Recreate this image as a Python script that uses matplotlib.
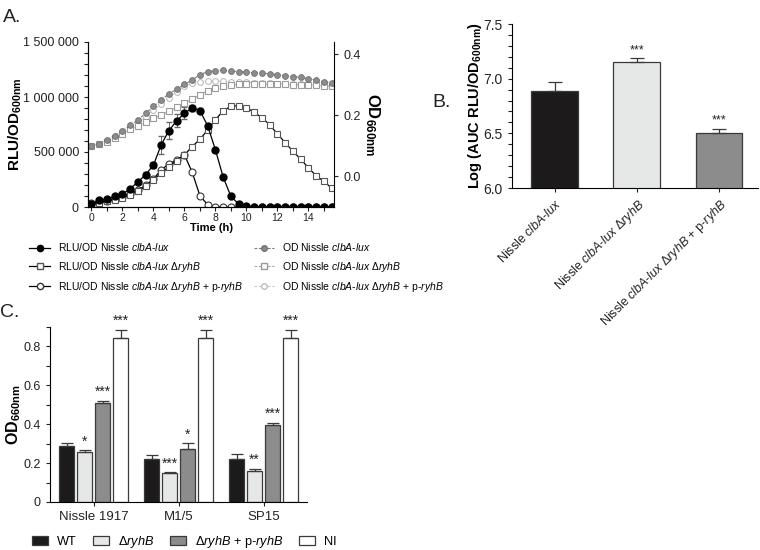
import matplotlib
matplotlib.use('Agg')
import matplotlib.pyplot as plt
import numpy as np
from matplotlib.ticker import MultipleLocator, FuncFormatter
from matplotlib.lines import Line2D
from matplotlib.patches import Patch

plt.rcParams['font.family'] = ['Liberation Sans', 'DejaVu Sans']
plt.rcParams['mathtext.fontset'] = 'custom'
plt.rcParams['mathtext.rm'] = 'Liberation Sans'
plt.rcParams['mathtext.it'] = 'Liberation Sans:italic'
plt.rcParams['mathtext.bf'] = 'Liberation Sans:bold'

# ---------------- Datos panel A (cinetica) ----------------
tiempo = np.arange(0, 16, 0.5)

rlu_wt = [30e3, 60e3, 72e3, 96e3, 117e3, 167e3, 227e3, 295e3, 380e3, 565e3,
          695e3, 783e3, 852e3, 900e3, 876e3, 738e3, 520e3, 272e3, 96e3, 27e3,
          5e3, 0, 0, 0, 0, 0, 0, 0, 0, 0, 0, 0]
rlu_wt_err = [0, 0, 0, 5e3, 5e3, 10e3, 15e3, 20e3, 25e3, 85e3,
              75e3, 60e3, 55e3, 30e3, 25e3, 15e3, 10e3, 8e3, 5e3, 0,
              0, 0, 0, 0, 0, 0, 0, 0, 0, 0, 0, 0]
rlu_ryhb = [30e3, 40e3, 52e3, 66e3, 85e3, 110e3, 145e3, 187e3, 247e3, 308e3,
            368e3, 422e3, 474e3, 549e3, 616e3, 700e3, 795e3, 873e3, 917e3, 920e3,
            903e3, 860e3, 813e3, 747e3, 664e3, 585e3, 507e3, 435e3, 356e3, 284e3,
            232e3, 172e3]
rlu_comp = [35e3, 45e3, 58e3, 75e3, 95e3, 120e3, 155e3, 196e3, 254e3, 338e3,
            392e3, 428e3, 474e3, 317e3, 102e3, 21e3, 3e3, 0, 0, 0,
            0, 0, 0, 0, 0, 0, 0, 0, 0, 0, 0, 0]

od_wt = [0.100, 0.107, 0.120, 0.133, 0.149, 0.167, 0.185, 0.207, 0.229, 0.251,
         0.270, 0.286, 0.301, 0.316, 0.333, 0.343, 0.346, 0.348, 0.345, 0.343,
         0.341, 0.340, 0.338, 0.336, 0.333, 0.330, 0.327, 0.324, 0.319, 0.316,
         0.310, 0.307]
od_ryhb = [0.100, 0.105, 0.113, 0.125, 0.140, 0.155, 0.166, 0.178, 0.190, 0.200,
           0.213, 0.227, 0.240, 0.252, 0.268, 0.280, 0.289, 0.295, 0.299, 0.301,
           0.302, 0.302, 0.302, 0.302, 0.301, 0.301, 0.300, 0.300, 0.299, 0.298,
           0.297, 0.295]
od_comp = [0.100, 0.105, 0.116, 0.128, 0.142, 0.158, 0.176, 0.196, 0.217, 0.238,
           0.258, 0.278, 0.295, 0.305, 0.310, 0.312, 0.312, 0.311, 0.310, 0.309,
           0.308, 0.307, 0.306, 0.305, 0.304, 0.303, 0.302, 0.301, 0.300, 0.299,
           0.298, 0.297]

# ---------------- Datos panel B (AUC) ----------------
cepas_b = [r"Nissle $\mathit{clbA}$-$\mathit{lux}$",
           r"Nissle $\mathit{clbA}$-$\mathit{lux}$ $\mathit{\Delta ryhB}$",
           r"Nissle $\mathit{clbA}$-$\mathit{lux}$ $\mathit{\Delta ryhB}$ + p-$\mathit{ryhB}$"]
auc = [6.889, 7.155, 6.504]
auc_err = [0.077, 0.031, 0.040]
auc_sig = ['', '***', '***']

# ---------------- Datos panel C (OD) ----------------
grupos_c = ['Nissle 1917', 'M1/5', 'SP15']
od_c_wt = [0.289, 0.223, 0.223]
od_c_wt_err = [0.016, 0.021, 0.023]
od_c_ryhb = [0.257, 0.148, 0.162]
od_c_ryhb_err = [0.008, 0.004, 0.010]
od_c_comp = [0.509, 0.272, 0.398]
od_c_comp_err = [0.013, 0.029, 0.008]
od_c_ni = [0.843, 0.843, 0.843]
od_c_ni_err = [0.041, 0.041, 0.041]
sig_c_ryhb = ['*', '***', '**']
sig_c_comp = ['***', '*', '***']
sig_c_ni = ['***', '***', '***']

W, H = 760, 550
fig = plt.figure(figsize=(7.6, 5.5), dpi=100)


def caja(l, t, r, b):
    # rectangulo en pixeles -> fraccion de figura
    return [l / W, 1 - b / H, (r - l) / W, (b - t) / H]


gris_txt = '#222222'

# ===================== Panel A =====================
ax = fig.add_axes(caja(88, 42, 334, 207))
ax.errorbar(tiempo, rlu_comp, color='black', marker='o', mfc='white', mec='#333333',
            ms=5, lw=0.9, mew=0.8)
ax.errorbar(tiempo, rlu_ryhb, color='black', marker='s', mfc='white', mec='#555555',
            ms=5, lw=0.9, mew=0.8)
ax.errorbar(tiempo, rlu_wt, yerr=rlu_wt_err, color='black', marker='o', ms=5, lw=0.9,
            ecolor='#666666', elinewidth=0.7, capsize=2.5)
ax.set_xlim(-0.22, 15.65)
ax.set_ylim(0, 1.5e6)
ax.xaxis.set_major_locator(MultipleLocator(2))
ax.xaxis.set_minor_locator(MultipleLocator(1))
ax.yaxis.set_major_locator(MultipleLocator(500000))
ax.yaxis.set_minor_locator(MultipleLocator(100000))
ax.yaxis.set_major_formatter(FuncFormatter(lambda v, p: f"{int(v):,}".replace(',', ' ')))
ax.tick_params(which='both', direction='out', length=3, width=0.8, labelsize=9, colors=gris_txt)
ax.tick_params(axis='x', labelsize=7.5, pad=1)
ax.spines['top'].set_visible(False)
ax.spines['right'].set_visible(False)
ax.set_xlabel('Time (h)', fontsize=8, fontweight='bold', labelpad=0)
ax.set_ylabel(r'$\mathbf{RLU/OD_{600nm}}$', fontsize=11)
ax.yaxis.set_label_coords(-0.262, 0.5)

ax2 = ax.twinx()
guion = (0, (2.5, 1.5))
ax2.plot(tiempo, od_comp, color='#c8c8c8', ls=guion, marker='o', mfc='white', mec='#bdbdbd',
         ms=4.2, lw=0.8, mew=0.8)
ax2.plot(tiempo, od_ryhb, color='#a8a8a8', ls=guion, marker='s', mfc='white', mec='#9a9a9a',
         ms=4.2, lw=0.8, mew=0.8)
ax2.plot(tiempo, od_wt, color='#7a7a7a', ls=guion, marker='o', mfc='#8c8c8c', mec='#707070',
         ms=4.2, lw=0.8, mew=0.6)
ax2.set_ylim(-0.1, 0.44)
ax2.set_yticks([0.0, 0.2, 0.4])
ax2.yaxis.set_major_formatter(FuncFormatter(lambda v, p: f"{v:.1f}"))
ax2.tick_params(direction='out', length=3, width=0.8, labelsize=9, colors=gris_txt)
ax2.spines['top'].set_visible(False)
ax2.set_ylabel(r'$\mathbf{OD_{660nm}}$', fontsize=12, rotation=270)
ax2.yaxis.set_label_coords(1.195, 0.5)

manejadores = [
    Line2D([], [], color='black', marker='o', ms=4.5, lw=0.9),
    Line2D([], [], color='black', marker='s', mfc='white', mec='#555555', ms=4.5, lw=0.9),
    Line2D([], [], color='black', marker='o', mfc='white', mec='#333333', ms=4.5, lw=0.9),
    Line2D([], [], color='#7a7a7a', ls=guion, marker='o', mfc='#8c8c8c', mec='#707070', ms=4, lw=0.8),
    Line2D([], [], color='#a8a8a8', ls=guion, marker='s', mfc='white', mec='#9a9a9a', ms=4, lw=0.8),
    Line2D([], [], color='#c8c8c8', ls=guion, marker='o', mfc='white', mec='#bdbdbd', ms=4, lw=0.8),
]
etiquetas = [
    r"RLU/OD Nissle $\mathit{clbA}$-$\mathit{lux}$",
    r"RLU/OD Nissle $\mathit{clbA}$-$\mathit{lux}$ $\mathit{\Delta ryhB}$",
    r"RLU/OD Nissle $\mathit{clbA}$-$\mathit{lux}$ $\mathit{\Delta ryhB}$ + p-$\mathit{ryhB}$",
    r"OD Nissle $\mathit{clbA}$-$\mathit{lux}$",
    r"OD Nissle $\mathit{clbA}$-$\mathit{lux}$ $\mathit{\Delta ryhB}$",
    r"OD Nissle $\mathit{clbA}$-$\mathit{lux}$ $\mathit{\Delta ryhB}$ + p-$\mathit{ryhB}$",
]
fig.legend(manejadores, etiquetas, ncol=2, loc='upper left', bbox_to_anchor=(24 / W, 1 - 236 / H),
           frameon=False, fontsize=7.5, handlelength=2.0, handletextpad=0.75, columnspacing=1.0,
           labelspacing=0.62, borderpad=0)

fig.text(3 / W, 1 - 22 / H, 'A.', fontsize=14, color=gris_txt)

# ===================== Panel B =====================
axb = fig.add_axes(caja(512, 24, 758, 188))
colores_b = ['#1c1a1b', '#e6e7e7', '#8c8c8c']
xb = np.arange(len(auc))
axb.bar(xb, auc, width=0.57, color=colores_b, edgecolor='#3a3a3a', lw=0.9,
        yerr=[[0] * len(auc), auc_err], capsize=5,
        error_kw=dict(elinewidth=0.9, capthick=0.9, ecolor='#3a3a3a'))
for x, v, e, s in zip(xb, auc, auc_err, auc_sig):
    if s:
        axb.text(x, v + e + 0.015, s, ha='center', va='bottom', fontsize=9, color=gris_txt)
axb.set_ylim(6.0, 7.5)
axb.set_xlim(-0.52, 2.475)
axb.yaxis.set_major_locator(MultipleLocator(0.5))
axb.yaxis.set_minor_locator(MultipleLocator(0.1))
axb.yaxis.set_major_formatter(FuncFormatter(lambda v, p: f"{v:.1f}"))
axb.set_xticks(xb)
axb.set_xticklabels(cepas_b, rotation=45, ha='right', rotation_mode='anchor', fontsize=9)
axb.tick_params(which='both', direction='out', length=3, width=0.8, labelsize=10, colors=gris_txt)
axb.tick_params(axis='x', labelsize=9)
axb.spines['top'].set_visible(False)
axb.spines['right'].set_visible(False)
axb.set_ylabel(r'$\mathbf{Log\ (AUC\ RLU/OD_{600nm})}$', fontsize=10.5)
axb.yaxis.set_label_coords(-0.115, 0.5)

fig.text(432 / W, 1 - 107 / H, 'B.', fontsize=14, color=gris_txt)

# ===================== Panel C =====================
axc = fig.add_axes(caja(50, 327, 307, 502))
xc = np.arange(len(grupos_c))
ancho = 0.176
paso = 0.212
series_c = [
    (od_c_wt, od_c_wt_err, '#1c1a1b', None),
    (od_c_ryhb, od_c_ryhb_err, '#e6e7e7', sig_c_ryhb),
    (od_c_comp, od_c_comp_err, '#8c8c8c', sig_c_comp),
    (od_c_ni, od_c_ni_err, 'white', sig_c_ni),
]
for j, (vals, errs, col, sig) in enumerate(series_c):
    pos = xc + (j - 1.5) * paso
    axc.bar(pos, vals, width=ancho, color=col, edgecolor='#3a3a3a', lw=0.9,
            yerr=[[0] * len(vals), errs], capsize=4,
            error_kw=dict(elinewidth=0.9, capthick=0.9, ecolor='#3a3a3a'))
    if sig:
        for x, v, e, s in zip(pos, vals, errs, sig):
            axc.text(x, v + e + 0.01, s, ha='center', va='bottom', fontsize=10, color=gris_txt)
axc.set_ylim(0, 0.9)
axc.set_xlim(-0.515, 2.51)
axc.yaxis.set_major_locator(MultipleLocator(0.2))
axc.yaxis.set_minor_locator(MultipleLocator(0.1))
axc.yaxis.set_major_formatter(FuncFormatter(lambda v, p: '0' if v == 0 else f"{v:.1f}"))
axc.set_xticks(xc)
axc.set_xticklabels(grupos_c, fontsize=9.5)
axc.tick_params(which='both', direction='out', length=3, width=0.8, labelsize=9, colors=gris_txt)
axc.tick_params(axis='x', labelsize=9.5)
axc.spines['top'].set_visible(False)
axc.spines['right'].set_visible(False)
axc.set_ylabel(r'$\mathbf{OD_{660nm}}$', fontsize=11.5)
axc.yaxis.set_label_coords(-0.105, 0.5)

fig.text(0 / W, 1 - 317 / H, 'C.', fontsize=14, color=gris_txt)

parches = [Patch(facecolor=c, edgecolor='#3a3a3a', lw=0.9) for c in ['#1c1a1b', '#e6e7e7', '#8c8c8c', 'white']]
fig.legend(parches, ['WT', r'$\mathit{\Delta ryhB}$', r'$\mathit{\Delta ryhB}$ + p-$\mathit{ryhB}$', 'NI'],
           ncol=4, loc='center left', bbox_to_anchor=(26 / W, 1 - 542 / H), frameon=False,
           fontsize=9.2, handlelength=1.25, handleheight=0.7, handletextpad=0.7,
           columnspacing=1.25, borderpad=0)

fig.savefig('out.png', dpi=100)
